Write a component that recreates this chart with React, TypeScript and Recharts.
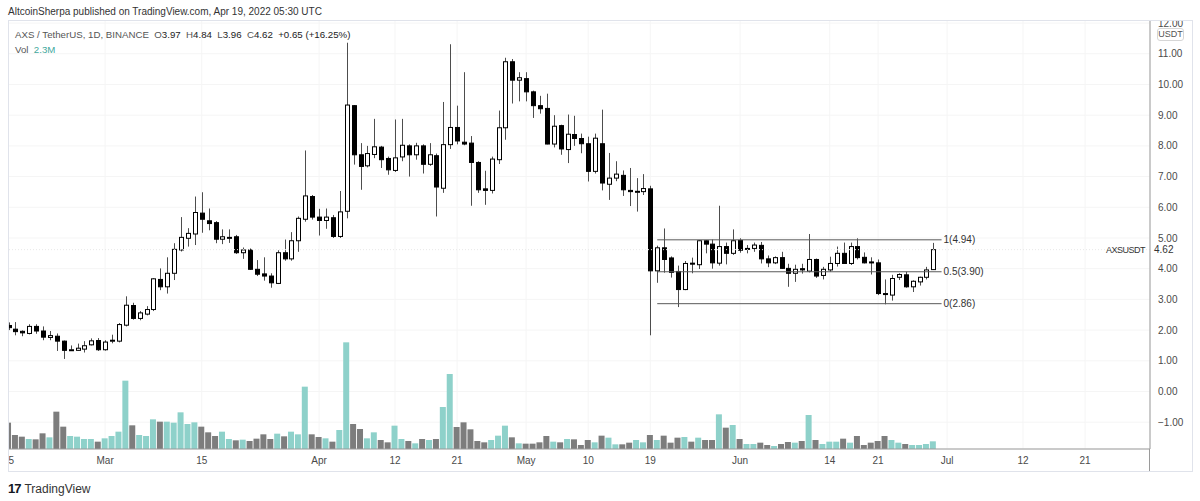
import { ComposedChart, Bar, XAxis, YAxis, CartesianGrid, ReferenceLine, ReferenceDot } from 'recharts'

// ─── data (AXS/USDT daily, Feb 15 → Jun 29) ───────────────────────────

const opens = [
  2.15, 2.03, 1.96, 1.89, 2.12, 1.97, 1.76, 1.80, 1.64, 1.35,
  1.34, 1.38, 1.52, 1.66, 1.36, 1.64, 1.64, 2.16, 2.80, 2.38,
  2.52, 2.67, 3.65, 3.41, 3.85, 4.61, 4.99, 5.13, 5.81, 5.56,
  5.50, 4.96, 5.00, 5.04, 4.52, 4.61, 3.98, 3.83, 3.76, 3.52,
  4.52, 4.32, 4.91, 5.61, 6.35, 5.68, 5.57, 5.66, 5.05, 5.87,
  9.31, 7.71, 7.35, 7.72, 7.96, 7.59, 7.20, 7.64, 8.00, 7.71,
  8.00, 7.40, 7.68, 6.62, 8.04, 8.60, 8.12, 8.09, 7.46, 6.60,
  6.55, 7.55, 8.59, 10.74, 10.14, 10.19, 9.76, 9.31, 9.22, 8.06,
  8.66, 7.88, 8.37, 8.24, 8.07, 7.17, 8.07, 6.75, 6.95, 7.04,
  6.55, 6.50, 6.51, 6.60, 3.93, 4.68, 4.35, 3.91, 3.32, 4.18,
  4.13, 4.91, 4.80, 4.18, 4.72, 4.50, 4.92, 4.64, 4.66, 4.76,
  4.32, 4.19, 4.36, 4.01, 3.85, 4.00, 3.92, 4.30, 3.78, 3.96,
  4.17, 4.50, 4.17, 4.72, 4.37, 4.22, 4.19, 3.19, 3.14, 3.72,
  3.80, 3.41, 3.57, 3.72, 3.97,
]
const highs = [
  2.25, 2.26, 1.99, 2.19, 2.19, 2.12, 1.97, 1.89, 1.66, 1.50,
  1.56, 1.64, 1.73, 1.74, 1.67, 1.85, 2.23, 3.10, 2.89, 2.62,
  2.78, 3.69, 4.01, 4.37, 4.83, 5.68, 5.32, 6.35, 6.49, 5.96,
  5.55, 5.28, 5.28, 5.10, 4.69, 4.66, 4.28, 4.37, 3.85, 4.60,
  4.95, 5.19, 5.70, 7.85, 6.40, 5.95, 5.96, 5.75, 6.53, 11.36,
  9.33, 8.09, 8.00, 8.88, 8.00, 7.65, 8.86, 8.88, 8.05, 8.10,
  8.05, 8.09, 7.75, 9.43, 11.31, 9.31, 10.40, 8.32, 7.50, 7.19,
  7.65, 9.15, 10.87, 10.83, 10.40, 10.40, 9.80, 9.63, 9.70, 9.00,
  8.69, 9.02, 8.98, 8.40, 8.30, 8.40, 9.18, 7.77, 7.50, 7.20,
  7.28, 6.95, 7.08, 6.70, 4.75, 5.31, 4.40, 4.10, 4.25, 4.36,
  4.93, 4.93, 4.95, 6.05, 4.85, 5.28, 4.99, 4.77, 4.85, 4.87,
  4.43, 4.40, 4.55, 4.16, 4.13, 4.16, 5.13, 4.33, 4.06, 4.39,
  4.72, 4.85, 4.85, 4.99, 4.53, 4.37, 4.30, 3.65, 3.80, 3.85,
  3.90, 3.62, 3.74, 4.06, 4.84,
]
const lows = [
  2.00, 1.83, 1.80, 1.86, 1.88, 1.67, 1.67, 1.32, 1.06, 1.32,
  1.33, 1.27, 1.50, 1.32, 1.33, 1.57, 1.60, 2.12, 2.34, 2.32,
  2.48, 2.62, 3.30, 3.19, 3.63, 4.56, 4.72, 4.77, 5.17, 5.25,
  4.83, 4.80, 4.84, 4.48, 4.32, 3.96, 3.76, 3.61, 3.38, 3.50,
  4.26, 4.26, 4.55, 5.53, 5.60, 5.08, 5.30, 5.00, 5.00, 5.64,
  7.39, 6.57, 7.30, 7.60, 7.28, 7.06, 7.15, 7.50, 7.00, 7.55,
  7.10, 7.35, 5.70, 6.47, 7.90, 8.05, 8.02, 6.05, 6.47, 6.08,
  6.45, 7.41, 8.20, 9.38, 9.45, 9.45, 8.91, 9.05, 8.05, 7.95,
  7.71, 7.44, 8.00, 7.76, 6.84, 7.10, 6.55, 6.24, 6.85, 6.37,
  6.04, 5.86, 6.40, 1.83, 3.54, 3.87, 3.71, 2.75, 3.30, 3.85,
  3.99, 4.50, 4.00, 4.10, 4.14, 4.45, 4.52, 4.50, 4.55, 4.17,
  4.05, 4.15, 4.00, 3.41, 3.57, 3.84, 3.88, 3.70, 3.65, 3.90,
  4.07, 4.17, 4.12, 4.30, 4.17, 3.81, 3.14, 2.84, 2.96, 3.63,
  3.38, 3.24, 3.45, 3.65, 3.96,
]
const closes = [
  2.08, 1.95, 1.91, 2.12, 1.97, 1.77, 1.82, 1.64, 1.34, 1.36,
  1.41, 1.49, 1.65, 1.36, 1.61, 1.67, 2.18, 2.81, 2.38, 2.56,
  2.67, 3.67, 3.41, 3.85, 4.63, 5.02, 5.15, 5.83, 5.61, 5.47,
  4.96, 5.04, 5.02, 4.52, 4.61, 3.98, 3.82, 3.76, 3.54, 4.52,
  4.32, 4.91, 5.64, 6.37, 5.68, 5.57, 5.68, 5.05, 5.85, 9.33,
  7.71, 7.33, 7.75, 7.97, 7.55, 7.22, 7.61, 8.02, 7.71, 8.00,
  7.40, 7.71, 6.66, 8.04, 8.60, 8.16, 8.06, 7.46, 6.57, 6.55,
  7.57, 8.59, 10.74, 10.14, 10.22, 9.76, 9.31, 9.21, 8.06, 8.64,
  7.90, 8.38, 8.24, 8.07, 7.17, 8.25, 6.79, 6.95, 7.08, 6.57,
  6.51, 6.52, 6.61, 3.93, 4.68, 4.30, 3.88, 3.32, 4.17, 4.15,
  4.91, 4.80, 4.19, 4.72, 4.50, 4.91, 4.60, 4.66, 4.77, 4.32,
  4.19, 4.36, 4.01, 3.85, 3.98, 3.96, 4.30, 3.76, 3.98, 4.17,
  4.50, 4.17, 4.72, 4.36, 4.19, 4.20, 3.19, 3.17, 3.68, 3.81,
  3.41, 3.59, 3.72, 3.96, 4.62,
]
// volume in millions
const volumes = [
  7.9, 4.2, 3.7, 3.0, 2.9, 4.7, 3.5, 11.2, 6.7, 3.9,
  3.7, 3.0, 3.0, 2.2, 3.2, 3.9, 5.2, 20.5, 7.1, 4.2,
  3.9, 8.9, 8.2, 8.2, 7.9, 11.0, 7.5, 8.0, 6.7, 5.0,
  3.9, 5.2, 3.0, 2.6, 2.8, 2.4, 3.1, 4.4, 3.0, 4.6,
  3.8, 5.2, 4.4, 18.7, 4.4, 3.6, 3.2, 2.2, 5.7, 32.0,
  7.5, 6.0, 3.2, 5.0, 2.7, 2.0, 7.0, 3.0, 2.4, 1.7,
  3.0, 2.7, 3.0, 12.6, 22.5, 6.6, 8.0, 5.9, 2.4, 2.0,
  2.7, 4.0, 7.0, 3.5, 1.7, 1.6, 1.6, 2.0, 3.9, 2.2,
  2.0, 3.0, 2.9, 1.2, 2.7, 2.0, 4.0, 3.4, 1.4, 1.4,
  1.9, 2.7, 2.0, 4.2, 2.7, 4.0, 1.9, 3.4, 3.6, 2.2,
  3.4, 2.7, 2.7, 10.4, 6.4, 7.2, 3.0, 1.5, 1.5, 1.9,
  1.2, 0.9, 1.5, 2.1, 1.9, 2.4, 10.2, 2.7, 1.5, 2.2,
  2.2, 3.1, 1.9, 3.9, 1.2, 1.9, 2.4, 3.9, 2.7, 1.9,
  1.5, 1.2, 1.2, 1.5, 2.3,
]

// time axis: day index (0 = Feb 15) → label
const timeTicks = [0, 14, 28, 45, 56, 65, 75, 84, 93, 106, 119, 126, 136, 147, 156]
const timeLabels = ['15', 'Mar', '15', 'Apr', '12', '21', 'May', '10', '19', 'Jun', '14', '21', 'Jul', '12', '21']
const priceTicks = [-1, 0, 1, 2, 3, 4, 5, 6, 7, 8, 9, 10, 11, 12]

// fib range drawn on the chart
const fibRatios = ['1', '0.5', '0']
const fibPrices = [4.94, 3.90, 2.86]
const fibFrom = 94
const fibTo = 135.2

const lastClose = 4.62

// ─── styling ──────────────────────────────────────────────────────────

const FONT = '"Liberation Sans", Arial, sans-serif'
const TEXT = '#4a4a4a'
const AXIS = '#9a9a9a'
const UP_VOL = '#8ed1ca'
const DOWN_VOL = '#7d7d7d'

const rows = opens.map((o, i) => ({
  i,
  o,
  h: highs[i],
  l: lows[i],
  c: closes[i],
  v: volumes[i],
  hl: [lows[i], highs[i]],
}))

function Candle(props: any) {
  const { x, y, width, height, payload } = props
  if (x == null || y == null) return null
  const { o, h, l, c } = payload
  const k = h === l ? 0 : height / (h - l)
  const yOf = (v: number) => y + (h - v) * k
  const cx = Math.round(x + width / 2) + 0.5
  const up = c >= o
  const top = yOf(Math.max(o, c))
  const bot = yOf(Math.min(o, c))
  return (
    <g>
      <line x1={cx} x2={cx} y1={y} y2={y + height} stroke="#4d4d4d" strokeWidth={1} />
      <rect
        x={cx - 2}
        y={top}
        width={4}
        height={Math.max(bot - top, 1)}
        fill={up ? '#ffffff' : '#000000'}
        stroke="#000000"
        strokeWidth={1}
      />
    </g>
  )
}

function VolBar(props: any) {
  const { x, y, width, height, payload } = props
  if (x == null || y == null) return null
  return <rect x={x} y={y} width={width} height={height} fill={payload.c >= payload.o ? UP_VOL : DOWN_VOL} />
}

const priceFmt = (v: number) => (v < 0 ? '\u2212' + Math.abs(v).toFixed(2) : v.toFixed(2))
const timeFmt = (v: number) => timeLabels[timeTicks.indexOf(v)] ?? ''

export default function App() {
  return (
    <div style={{ position: 'fixed', left: 0, top: 0, width: 1200, height: 501, background: '#fff', fontFamily: FONT }}>
      <div style={{ position: 'absolute', left: 8, top: 6, fontSize: 10, color: '#333' }}>
        AltcoinSherpa published on TradingView.com, Apr 19, 2022 05:30 UTC
      </div>

      <div style={{ position: 'absolute', left: 8, top: 20 }}>
        <ComposedChart width={1184} height={451} data={rows} margin={{ top: 0, right: 0, bottom: 0, left: 0 }}>
          <CartesianGrid xAxisId="p" yAxisId="p" stroke="#f5f5f5" />
          <XAxis
            xAxisId="p"
            dataKey="i"
            type="number"
            domain={[-0.07, 165.4]}
            allowDataOverflow
            ticks={timeTicks}
            tickFormatter={timeFmt}
            interval={0}
            height={22}
            tickLine={false}
            axisLine={{ stroke: AXIS }}
            tick={{ fill: TEXT, fontSize: 10, fontFamily: FONT }}
          />
          <XAxis xAxisId="v" dataKey="i" type="number" domain={[-0.07, 165.4]} allowDataOverflow hide />
          <YAxis
            yAxisId="p"
            orientation="right"
            type="number"
            domain={[-1.873, 12.1]}
            allowDataOverflow
            ticks={priceTicks}
            interval={0}
            tickFormatter={priceFmt}
            width={42}
            tickLine={false}
            axisLine={{ stroke: AXIS }}
            tick={{ fill: TEXT, fontSize: 10, fontFamily: FONT }}
          />
          <YAxis yAxisId="v" type="number" domain={[0, 128.7]} hide />

          <Bar xAxisId="v" yAxisId="v" dataKey="v" barSize={6} shape={VolBar} isAnimationActive={false} />
          <Bar xAxisId="p" yAxisId="p" dataKey="hl" barSize={5} shape={Candle} isAnimationActive={false} />

          {fibPrices.map((p, k) => (
            <ReferenceLine
              key={'f' + k}
              xAxisId="p"
              yAxisId="p"
              segment={[{ x: fibFrom, y: p }, { x: fibTo, y: p }]}
              stroke="#5a5a5a"
              strokeWidth={1}
            />
          ))}
          {fibPrices.map((p, k) => (
            <ReferenceDot
              key={'d' + k}
              xAxisId="p"
              yAxisId="p"
              x={fibTo}
              y={p}
              r={0}
              fill="none"
              stroke="none"
              label={{
                value: `${fibRatios[k]}(${p.toFixed(2)})`,
                position: 'right',
                offset: 2,
                fill: '#333',
                fontSize: 10,
                fontFamily: FONT,
              }}
            />
          ))}

          <ReferenceLine
            xAxisId="p"
            yAxisId="p"
            y={lastClose}
            stroke="#e8e8e8"
            strokeDasharray="1 2"
            label={{
              value: 'AXSUSDT',
              position: 'insideRight',
              offset: 5,
              fill: '#333',
              fontSize: 9,
              letterSpacing: -0.5,
              fontFamily: FONT,
            }}
          />
          <ReferenceLine
            xAxisId="p"
            yAxisId="p"
            y={lastClose}
            stroke="none"
            label={{ value: lastClose.toFixed(2), position: 'right', offset: 4, fill: '#333', fontSize: 10, fontFamily: FONT }}
          />
        </ComposedChart>
      </div>

      {/* pane frame */}
      <div style={{ position: 'absolute', left: 8, top: 20, width: 1183, height: 450, border: '1px solid #e0e3eb', pointerEvents: 'none' }} />
      <div style={{ position: 'absolute', left: 1149, top: 449, width: 1, height: 22, background: AXIS }} />

      {/* unit badge */}
      <div
        style={{
          position: 'absolute', left: 1157, top: 28, width: 25, height: 11, border: '1px solid #d6d6d6',
          borderRadius: 3, background: '#fff', fontSize: 9, lineHeight: '11px', textAlign: 'center', color: '#555',
        }}
      >
        USDT
      </div>

      {/* legend */}
      <div style={{ position: 'absolute', left: 15, top: 29, fontSize: 9.7, color: '#555', whiteSpace: 'pre' }}>
        {'AXS / TetherUS, 1D, BINANCE  '}
        <span>O</span><span style={{ color: '#222' }}>3.97</span>{'  '}
        <span>H</span><span style={{ color: '#222' }}>4.84</span>{'  '}
        <span>L</span><span style={{ color: '#222' }}>3.96</span>{'  '}
        <span>C</span><span style={{ color: '#222' }}>4.62</span>{'  '}
        <span style={{ color: '#222' }}>+0.65 (+16.25%)</span>
      </div>
      <div style={{ position: 'absolute', left: 15, top: 44, fontSize: 9.7, color: '#555', whiteSpace: 'pre' }}>
        {'Vol  '}<span style={{ color: '#3fa89d' }}>2.3M</span>
      </div>

      {/* footer */}
      <div style={{ position: 'absolute', left: 8, top: 481, fontSize: 12, color: '#333', display: 'flex', alignItems: 'center', gap: 4 }}>
        <span style={{ fontWeight: 900, fontSize: 13, letterSpacing: -1, color: '#131722' }}>17</span>
        <span>TradingView</span>
      </div>
    </div>
  )
}
